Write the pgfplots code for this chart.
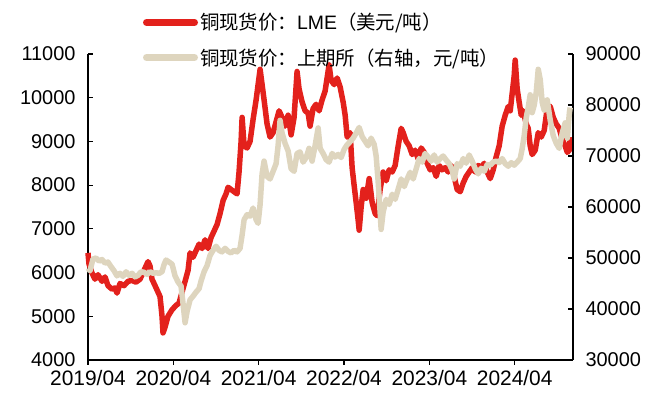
\documentclass[border=0pt]{standalone}
\usepackage{pgfplots}
\pgfplotsset{compat=1.18}
\usepackage{fontspec}
\setmainfont{Liberation Sans}
\newfontfamily\cjk{Noto Sans CJK SC}
\definecolor{lmered}{RGB}{227,33,28}
\definecolor{shfebeige}{RGB}{222,213,190}
\pgfplotsset{
  every axis/.append style={
    scale only axis, width=485bp, height=306bp,
    at={(88bp,36bp)}, anchor=south west,
    xmin=0, xmax=68.2,
    axis line style={black, line width=1.1bp},
    tick style={black, line width=1.1bp},
    major tick length=5bp,
    tick label style={font=\fontsize{20}{22}\selectfont},
    /pgf/number format/assume math mode=true,
    /pgf/number format/1000 sep={},
    scaled y ticks=false,
    clip=false,
  }
}
\begin{document}
\begin{tikzpicture}
\useasboundingbox (0,0) rectangle (648bp,396bp);
\begin{axis}[
  ymin=4000, ymax=11000,
  axis x line*=bottom, axis y line*=left,
  xtick={0,12,24,36,48,60},
  xticklabels={2019/04,2020/04,2021/04,2022/04,2023/04,2024/04},
  ytick={4000,5000,6000,7000,8000,9000,10000,11000},
  xtick align=outside, ytick align=inside,
  yticklabel style={xshift=-9bp},
  xticklabel style={yshift=-2bp, font=\fontsize{21}{22}\selectfont},
]
\addplot[lmered, line width=5.5bp, line join=round] coordinates {
(0,6450)(0.14,6200)(0.56,5990)(0.98,5850)(1.41,5950)(1.97,5800)(2.39,5900)(2.81,5700)(3.38,5620)(3.8,5650)(4.08,5530)(4.5,5750)(5.06,5700)(5.63,5800)(6.19,5820)(6.75,5780)(7.32,5850)(7.74,6000)(8.02,6100)(8.44,6250)(8.72,6150)(9.0,5850)(9.43,5700)(9.85,5550)(10.13,5450)(10.41,5000)(10.55,4620)(10.83,4750)(11.25,5000)(11.82,5150)(12.38,5250)(12.8,5300)(13.22,5550)(13.65,5800)(14.07,6050)(14.35,6450)(14.77,6350)(15.19,6500)(15.62,6650)(16.04,6550)(16.46,6750)(16.88,6550)(17.3,6800)(17.73,6950)(18.15,7100)(18.57,7350)(19.0,7650)(19.41,7800)(19.7,7950)(20.12,7900)(20.54,7850)(20.96,7800)(21.24,8300)(21.53,9000)(21.67,9550)(21.95,8900)(22.37,8850)(22.79,9000)(23.21,9500)(23.64,9950)(23.92,10300)(24.2,10650)(24.48,10300)(24.76,9950)(25.18,9400)(25.6,9100)(26.03,9200)(26.45,9450)(26.87,9700)(27.29,9550)(27.71,9350)(28.14,9600)(28.56,9150)(28.98,9550)(29.4,10600)(29.68,10200)(30.11,9900)(30.53,9700)(30.95,9650)(31.23,9350)(31.65,9750)(32.07,9850)(32.5,9700)(32.92,9950)(33.34,10150)(33.62,10450)(33.9,10750)(34.19,10400)(34.61,10300)(35.03,10450)(35.45,10250)(35.88,9900)(36.16,9600)(36.44,9100)(36.86,9200)(37.14,8400)(37.42,8000)(37.71,7600)(37.99,7200)(38.13,6970)(38.41,7500)(38.69,7900)(39.12,7700)(39.54,8150)(39.96,7600)(40.38,7350)(40.66,7300)(41.08,7900)(41.5,8300)(41.93,8100)(42.35,8350)(42.77,8300)(43.19,8450)(43.62,8900)(44.04,9300)(44.32,9200)(44.74,9000)(45.16,8900)(45.59,8700)(46.0,8800)(46.43,8600)(46.85,8850)(47.27,8750)(47.69,8500)(48.12,8350)(48.54,8400)(48.96,8200)(49.38,8450)(49.8,8350)(50.23,8400)(50.65,8300)(51.07,8450)(51.49,8200)(51.91,7900)(52.34,7850)(52.76,8050)(53.18,8200)(53.6,8300)(54.02,8400)(54.45,8300)(54.87,8450)(55.29,8400)(55.71,8500)(56.13,8300)(56.56,8150)(56.98,8350)(57.4,8650)(57.82,8900)(58.24,9350)(58.67,9600)(59.09,9800)(59.37,9700)(59.65,10100)(59.93,10500)(60.07,10860)(60.35,10200)(60.63,9900)(60.92,9600)(61.2,9700)(61.62,9400)(61.9,9300)(62.18,8900)(62.46,8700)(62.89,8800)(63.31,9200)(63.73,9100)(64.15,9250)(64.57,9750)(65.0,9800)(65.42,9550)(65.84,9400)(66.26,9300)(66.68,9050)(67.1,8900)(67.4,8750)(67.69,8800)(67.8,9100)
};
\end{axis}
\begin{axis}[
  ymin=30000, ymax=90000,
  axis x line=none, axis y line*=right,
  ytick={30000,40000,50000,60000,70000,80000,90000},
  ytick align=inside,
  yticklabel style={xshift=9bp},
  legend style={at={(0.113,1.14)}, anchor=north west, draw=none, fill=none,
    font=\fontsize{19.5}{22}\selectfont, row sep=13bp, inner sep=0pt,
    nodes={inner sep=2bp}},
  legend cell align=left,
  legend image code/.code={\draw[#1, line width=7bp, line cap=round] (0bp,0bp) -- (48bp,0bp);},
]
\addlegendimage{lmered}
\addlegendentry{{\cjk 铜现货价：}LME{\cjk （美元/吨）}}
\addplot[shfebeige, line width=5.5bp, line join=round] coordinates {
(0,48000)(0.28,47500)(0.7,49800)(1.13,50000)(1.55,49400)(1.97,49700)(2.39,49000)(2.81,49200)(3.24,48300)(3.66,47500)(4.08,46500)(4.5,47000)(4.92,46400)(5.35,47300)(5.77,46600)(6.19,47000)(6.61,46300)(7.03,46600)(7.46,47300)(7.88,47200)(8.3,46800)(8.72,47300)(9.14,47000)(9.57,47100)(9.99,47000)(10.41,47300)(10.69,48700)(10.97,49600)(11.4,49200)(11.82,48800)(12.24,46500)(12.66,45300)(13.08,44500)(13.37,41000)(13.65,37300)(13.93,39500)(14.35,41800)(14.77,42500)(15.19,43300)(15.62,44000)(15.9,45500)(16.32,47300)(16.74,48500)(17.16,50500)(17.59,51500)(18.01,52300)(18.43,51500)(18.85,51200)(19.27,51900)(19.7,51300)(20.12,51000)(20.54,51500)(20.96,51200)(21.38,51900)(21.67,54500)(21.95,57500)(22.37,58500)(22.79,58200)(23.21,59800)(23.64,57500)(23.92,56800)(24.2,60500)(24.48,66500)(24.76,69000)(25.18,66000)(25.6,65500)(26.03,67000)(26.45,68500)(26.73,72000)(27.01,77000)(27.29,74500)(27.71,72500)(28.14,71000)(28.56,67500)(28.98,67000)(29.4,70500)(29.82,70800)(30.25,68800)(30.67,69700)(31.09,71500)(31.51,69000)(31.93,72000)(32.36,75500)(32.64,71500)(33.06,70500)(33.48,69300)(33.9,68800)(34.33,70500)(34.75,69800)(35.17,70300)(35.59,69700)(36.02,71300)(36.44,72200)(36.86,72800)(37.28,73500)(37.71,74500)(38.13,75600)(38.55,73800)(38.97,72900)(39.39,72000)(39.81,73500)(40.24,72300)(40.52,70000)(40.8,65000)(41.08,59000)(41.22,55600)(41.5,59000)(41.93,61500)(42.35,60500)(42.77,62500)(43.19,61500)(43.62,63500)(44.04,65500)(44.46,64000)(44.88,65500)(45.3,66800)(45.73,65500)(46.15,67500)(46.57,69500)(46.99,68800)(47.41,70500)(47.83,69800)(48.26,69000)(48.68,70200)(49.1,68800)(49.52,69500)(49.94,70000)(50.37,69200)(50.79,68500)(51.21,67200)(51.49,65500)(51.91,68500)(52.34,68000)(52.76,69500)(53.18,68600)(53.6,70200)(54.02,69000)(54.45,67500)(54.87,66500)(55.29,67600)(55.71,67000)(56.13,68300)(56.56,68200)(56.98,68800)(57.4,69000)(57.82,68700)(58.24,69500)(58.67,68500)(59.09,68000)(59.51,68700)(59.93,68200)(60.35,68800)(60.78,69500)(61.06,71500)(61.34,74000)(61.62,77500)(61.9,79500)(62.18,82000)(62.46,78500)(62.75,80000)(63.03,82500)(63.31,87000)(63.59,85000)(63.87,80500)(64.15,79000)(64.57,81000)(65.0,77000)(65.42,74000)(65.84,72500)(66.26,71500)(66.68,74500)(67.1,76500)(67.4,73500)(67.69,78500)(67.8,79500)
};
\addlegendentry{{\cjk 铜现货价：上期所（右轴，元/吨）}}
\end{axis}
\end{tikzpicture}
\end{document}
